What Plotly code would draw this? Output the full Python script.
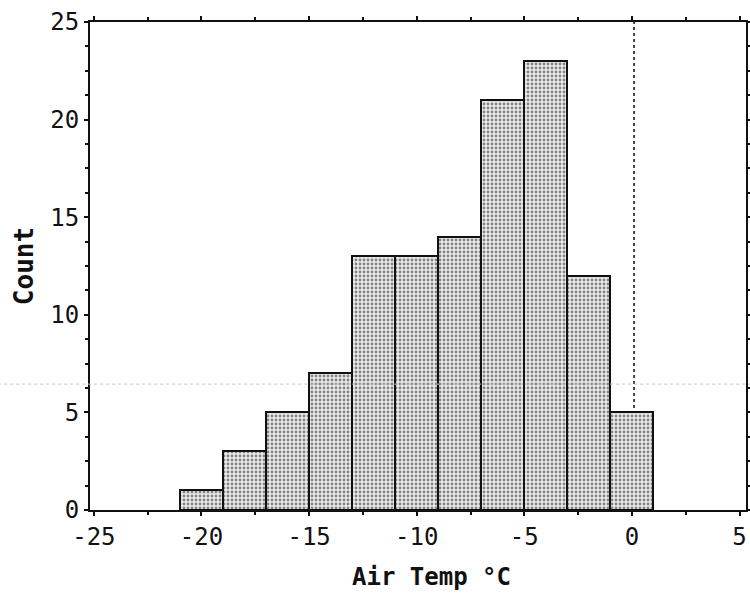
import plotly.graph_objects as go

bin_starts = [-21, -19, -17, -15, -13, -11, -9, -7, -5, -3, -1]
bin_width = 2
counts = [1, 3, 5, 7, 13, 13, 14, 21, 23, 12, 5]
x_ticks = [-25, -20, -15, -10, -5, 0, 5]
y_ticks = [0, 5, 10, 15, 20, 25]
ref_x = 0.1
scan_line_y = 6.45

centers = [s + bin_width / 2 for s in bin_starts]
font_family = "DejaVu Sans Mono"

fig = go.Figure()
fig.add_trace(go.Bar(
    x=centers, y=counts, width=bin_width,
    marker=dict(
        color="#d0d0d0",
        line=dict(color="#111111", width=2),
        pattern=dict(shape=".", fgcolor="#1a1a1a", bgcolor="#ececec", size=4, solidity=0.4),
    ),
    showlegend=False,
))

fig.add_shape(type="line", x0=ref_x, x1=ref_x, y0=0, y1=25, xref="x", yref="y",
              line=dict(color="#444444", width=2, dash="dot"), layer="below")
fig.add_shape(type="line", x0=-0.14, x1=1.02, y0=scan_line_y, y1=scan_line_y, xref="paper", yref="y",
              line=dict(color="#c4c4c4", width=1, dash="dot"), layer="above")

axis_common = dict(
    showgrid=False, zeroline=False, showline=True, linecolor="#111111", linewidth=2,
    mirror="ticks", ticks="outside", tickcolor="#111111", tickwidth=2, ticklen=4,
    tickfont=dict(family=font_family, size=24, color="#111111"),
    automargin=False,
)

fig.update_xaxes(
    range=[-25.18, 5.3], tickvals=x_ticks, ticktext=[str(v) for v in x_ticks],
    minor=dict(dtick=2.5, tick0=-25, ticks="outside", ticklen=3, tickcolor="#111111", tickwidth=2),
    **axis_common,
)
fig.update_yaxes(
    range=[0, 25], tickvals=y_ticks,
    minor=dict(dtick=1.25, tick0=0, ticks="outside", ticklen=3, tickcolor="#111111", tickwidth=2),
    title=dict(text="<b>Count</b>", font=dict(family=font_family, size=26, color="#111111"), standoff=9),
    **axis_common,
)

fig.add_annotation(
    text="<b>Air Temp °C</b>", xref="paper", yref="paper", x=0.521, y=-0.137,
    xanchor="center", yanchor="middle", showarrow=False,
    font=dict(family=font_family, size=24, color="#111111"),
)

fig.update_layout(
    width=750, height=595,
    margin=dict(l=90, r=4, t=22, b=85),
    plot_bgcolor="#ffffff", paper_bgcolor="#ffffff",
    bargap=0,
)

fig.write_html("out.html")
